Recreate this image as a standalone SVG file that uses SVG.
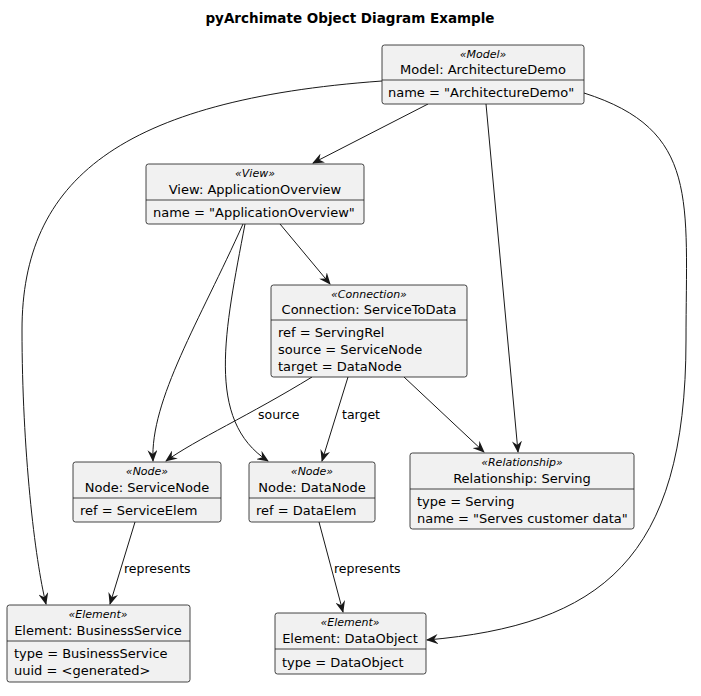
<svg xmlns="http://www.w3.org/2000/svg" width="701" height="696" viewBox="0 0 701 696">
<style>
.box{fill:#F1F1F1;stroke:#181818;stroke-width:0.8}
.div{stroke:#181818;stroke-width:0.8}
text{font-family:"DejaVu Sans","Liberation Sans",sans-serif;fill:#000}
.st{font-size:11px;font-style:italic;text-anchor:middle}
.nm{font-size:13px;text-anchor:middle}
.at{font-size:13px}
.lb{font-size:12.5px}
.e{fill:none;stroke:#181818;stroke-width:1;marker-end:url(#a)}
</style>
<defs><marker id="a" viewBox="0 0 12 10" refX="11" refY="5" markerWidth="12" markerHeight="10" markerUnits="userSpaceOnUse" orient="auto"><path d="M0,0 L12,5 L0,10 L4,5 Z" fill="#181818"/></marker></defs>
<rect width="701" height="696" fill="#fff"/>
<text x="350" y="23" style="font-size:13.5px;font-weight:bold;text-anchor:middle">pyArchimate Object Diagram Example</text>
<g id="edges">
<path class="e" d="M382,81 C120,100 22,180 22,330 C22,450 35,560 46,604"/>
<path class="e" d="M428,104 L313,163"/>
<path class="e" d="M486,104 L518,452"/>
<path class="e" d="M584,93 C700,130 686,200 686,340 C686,560 600,625 427,640"/>
<path class="e" d="M243,224 C200,320 150,400 153,461"/>
<path class="e" d="M245,224 C225,330 205,420 268,461"/>
<path class="e" d="M280,224 L330,284"/>
<path class="e" d="M312,377 C250,415 195,440 166,461"/>
<path class="e" d="M348,377 L322,461"/>
<path class="e" d="M404,377 L484,452"/>
<path class="e" d="M135,522 L110,604"/>
<path class="e" d="M319,522 L343,612"/>
<text class="lb" x="258" y="419">source</text>
<text class="lb" x="342" y="419">target</text>
<text class="lb" x="124" y="573">represents</text>
<text class="lb" x="334" y="573">represents</text>
</g>
<g id="model"><rect class="box" x="382" y="45" width="202" height="59" rx="2.5"/><line class="div" x1="382" y1="80" x2="584" y2="80"/>
<text class="st" x="483" y="58">«Model»</text><text class="nm" x="483" y="74">Model: ArchitectureDemo</text><text class="at" x="388" y="97">name = "ArchitectureDemo"</text></g>
<g id="view"><rect class="box" x="146" y="164" width="218" height="60" rx="2.5"/><line class="div" x1="146" y1="200" x2="364" y2="200"/>
<text class="st" x="255" y="177">«View»</text><text class="nm" x="255" y="194">View: ApplicationOverview</text><text class="at" x="153" y="217">name = "ApplicationOverview"</text></g>
<g id="connection"><rect class="box" x="271" y="285" width="196" height="92" rx="2.5"/><line class="div" x1="271" y1="320" x2="467" y2="320"/>
<text class="st" x="369" y="298">«Connection»</text><text class="nm" x="369" y="314">Connection: ServiceToData</text>
<text class="at" x="278" y="337">ref = ServingRel</text><text class="at" x="278" y="354">source = ServiceNode</text><text class="at" x="278" y="371">target = DataNode</text></g>
<g id="servicenode"><rect class="box" x="73" y="462" width="148" height="60" rx="2.5"/><line class="div" x1="73" y1="498" x2="221" y2="498"/>
<text class="st" x="147" y="475">«Node»</text><text class="nm" x="147" y="492">Node: ServiceNode</text><text class="at" x="80" y="515">ref = ServiceElem</text></g>
<g id="datanode"><rect class="box" x="249" y="462" width="126" height="60" rx="2.5"/><line class="div" x1="249" y1="498" x2="375" y2="498"/>
<text class="st" x="312" y="475">«Node»</text><text class="nm" x="312" y="492">Node: DataNode</text><text class="at" x="256" y="515">ref = DataElem</text></g>
<g id="relationship"><rect class="box" x="410" y="453" width="224" height="76" rx="2.5"/><line class="div" x1="410" y1="489" x2="634" y2="489"/>
<text class="st" x="522" y="466">«Relationship»</text><text class="nm" x="522" y="483">Relationship: Serving</text>
<text class="at" x="417" y="506">type = Serving</text><text class="at" x="417" y="523">name = "Serves customer data"</text></g>
<g id="businessservice"><rect class="box" x="7" y="605" width="183" height="77" rx="2.5"/><line class="div" x1="7" y1="641" x2="190" y2="641"/>
<text class="st" x="98" y="618">«Element»</text><text class="nm" x="98" y="635">Element: BusinessService</text>
<text class="at" x="14" y="658">type = BusinessService</text><text class="at" x="14" y="675">uuid = &lt;generated&gt;</text></g>
<g id="dataobject"><rect class="box" x="275" y="613" width="151" height="61" rx="2.5"/><line class="div" x1="275" y1="649" x2="426" y2="649"/>
<text class="st" x="350" y="626">«Element»</text><text class="nm" x="350" y="643">Element: DataObject</text><text class="at" x="282" y="667">type = DataObject</text></g>
</svg>
